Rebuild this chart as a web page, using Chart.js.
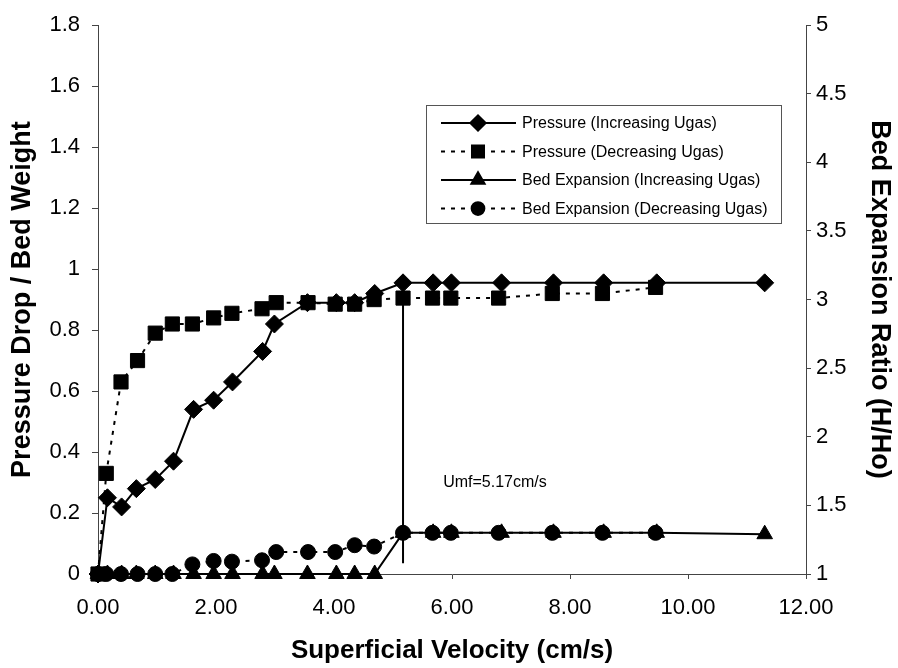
<!DOCTYPE html>
<html lang="en">
<head>
<meta charset="utf-8">
<title>Pressure drop and bed expansion</title>
<script src="https://cdn.jsdelivr.net/npm/chart.js@4.4.0/dist/chart.umd.min.js"></script>
<style>
  html, body { margin: 0; padding: 0; background: #fff; }
  #wrap { width: 898px; height: 668px; }
</style>
</head>
<body>
<div id="wrap"><canvas id="myChart" width="898" height="668"></canvas></div>
<script>
// superficial velocity (cm/s), increasing gas flow
var velInc = [0, 0.16, 0.40, 0.65, 0.97, 1.28, 1.62, 1.96, 2.28, 2.79, 2.99, 3.55, 4.04, 4.35, 4.69, 5.17, 5.68, 5.99, 6.84, 7.72, 8.57, 9.47, 11.30];
var pressureInc = [0, 0.25, 0.22, 0.28, 0.31, 0.37, 0.54, 0.57, 0.63, 0.73, 0.82, 0.89, 0.89, 0.89, 0.92, 0.955, 0.955, 0.955, 0.955, 0.955, 0.955, 0.955, 0.955];
var bedInc = [1, 1, 1, 1, 1, 1, 1, 1, 1, 1, 1, 1, 1, 1, 1, 1.30, 1.30, 1.30, 1.30, 1.30, 1.30, 1.30, 1.29];

// decreasing gas flow
var velDec = [0, 0.14, 0.39, 0.67, 0.97, 1.26, 1.60, 1.96, 2.27, 2.78, 3.02, 3.56, 4.02, 4.35, 4.68, 5.17, 5.67, 5.98, 6.79, 7.70, 8.55, 9.45];
var pressureDec = [0, 0.33, 0.63, 0.70, 0.79, 0.82, 0.82, 0.84, 0.855, 0.87, 0.89, 0.89, 0.885, 0.885, 0.90, 0.905, 0.905, 0.905, 0.905, 0.92, 0.92, 0.94];
var bedDec = [1, 1, 1, 1, 1, 1, 1.07, 1.095, 1.09, 1.10, 1.16, 1.16, 1.16, 1.21, 1.20, 1.30, 1.30, 1.30, 1.30, 1.30, 1.30, 1.30];

// minimum fluidisation marker
var umfVel = 5.17;
var umfLineY = [0.955, 0.035];
var umfLabel = 'Umf=5.17cm/s';
var umfLabelPos = [5.85, 0.30];

var seriesNames = [
  'Pressure (Increasing Ugas)',
  'Pressure (Decreasing Ugas)',
  'Bed Expansion (Increasing Ugas)',
  'Bed Expansion (Decreasing Ugas)'
];

var xTicks = [0, 2, 4, 6, 8, 10, 12];

function pts(xs, ys) {
  return xs.map(function (x, i) { return { x: x, y: ys[i] }; });
}

var FONT = "'Liberation Sans', Arial, sans-serif";
var AXIS = '#444';

// legend drawn inside the plot, like the excel original
var boxLegend = {
  id: 'boxLegend',
  afterDraw: function (chart) {
    var ctx = chart.ctx;
    var x0 = 426, y0 = 105, w = 355, h = 118;
    ctx.save();
    ctx.fillStyle = '#fff';
    ctx.fillRect(x0, y0, w, h);
    ctx.strokeStyle = '#555';
    ctx.lineWidth = 1;
    ctx.strokeRect(x0 + 0.5, y0 + 0.5, w, h);
    chart.data.datasets.slice(0, 4).forEach(function (ds, i) {
      var y = y0 + 18 + i * 28.5;
      ctx.strokeStyle = '#000';
      ctx.lineWidth = 2;
      ctx.setLineDash(ds.borderDash || []);
      ctx.beginPath();
      ctx.moveTo(441, y);
      ctx.lineTo(516, y);
      ctx.stroke();
      ctx.setLineDash([]);
      ctx.fillStyle = '#000';
      Chart.helpers.drawPoint(ctx, { pointStyle: ds.pointStyle, radius: ds.pointRadius * 0.85, rotation: 0, borderWidth: 1 }, 478, y);
      ctx.fillStyle = '#000';
      ctx.font = '16px ' + FONT;
      ctx.textBaseline = 'middle';
      ctx.fillText(ds.label, 522, y + 1);
    });
    // Umf note
    var sx = chart.scales.x, sy = chart.scales.y;
    ctx.font = '16px ' + FONT;
    ctx.textBaseline = 'middle';
    ctx.fillText(umfLabel, sx.getPixelForValue(umfLabelPos[0]), sy.getPixelForValue(umfLabelPos[1]));
    ctx.restore();
  }
};

var common = { borderColor: '#000', backgroundColor: '#000', borderWidth: 2, showLine: true, tension: 0, pointBorderWidth: 1, clip: false };

function shortNum(v) { return String(Number(v.toFixed(1))); }

var ctx = document.getElementById('myChart').getContext('2d');
var myChart = new Chart(ctx, {
  type: 'scatter',
  data: {
    datasets: [
      Object.assign({}, common, { label: seriesNames[0], data: pts(velInc, pressureInc), yAxisID: 'y', pointStyle: 'rectRot', pointRadius: 9, order: 1 }),
      Object.assign({}, common, { label: seriesNames[1], data: pts(velDec, pressureDec), yAxisID: 'y', pointStyle: 'rect', pointRadius: 10, borderDash: [4, 6], order: 2 }),
      Object.assign({}, common, { label: seriesNames[2], data: pts(velInc, bedInc), yAxisID: 'y2', pointStyle: 'triangle', pointRadius: 9, order: 3 }),
      Object.assign({}, common, { label: seriesNames[3], data: pts(velDec, bedDec), yAxisID: 'y2', pointStyle: 'circle', pointRadius: 7.5, borderDash: [4, 6], order: 4 }),
      Object.assign({}, common, { label: 'Umf', data: pts([umfVel, umfVel], umfLineY), yAxisID: 'y', pointRadius: 0, order: 5 })
    ]
  },
  options: {
    responsive: false,
    animation: false,
    layout: { padding: { top: 19, left: 0, right: 0, bottom: 0 } },
    plugins: { legend: { display: false }, tooltip: { enabled: false } },
    scales: {
      x: {
        type: 'linear', min: 0, max: 12,
        afterBuildTicks: function (s) { s.ticks = xTicks.map(function (v) { return { value: v }; }); },
        afterFit: function (s) { s.height = 94; },
        border: { display: true, color: AXIS, width: 1 },
        grid: { drawOnChartArea: false, drawTicks: true, tickLength: 5, color: AXIS },
        ticks: { color: '#000', font: { family: FONT, size: 22 }, padding: 16, callback: function (v) { return v.toFixed(2); } },
        title: { display: true, text: 'Superficial Velocity (cm/s)', color: '#000', font: { family: FONT, size: 26, weight: 'bold' }, padding: { top: 0, bottom: 2 } }
      },
      y: {
        position: 'left', min: 0, max: 1.8,
        ticks: { stepSize: 0.2, color: '#000', font: { family: FONT, size: 22 }, padding: 12, callback: shortNum },
        afterFit: function (s) { s.width = 98; },
        border: { display: true, color: AXIS, width: 1 },
        grid: { drawOnChartArea: false, drawTicks: true, tickLength: 6, color: AXIS },
        title: { display: true, text: 'Pressure Drop / Bed Weight', color: '#000', font: { family: FONT, size: 27, weight: 'bold' }, padding: { top: 6, bottom: 0 } }
      },
      y2: {
        position: 'right', min: 1, max: 5,
        ticks: { stepSize: 0.5, color: '#000', font: { family: FONT, size: 22 }, padding: 5, callback: shortNum },
        afterFit: function (s) { s.width = 92; },
        border: { display: true, color: AXIS, width: 1 },
        grid: { drawOnChartArea: false, drawTicks: true, tickLength: 5, color: AXIS },
        title: { display: true, text: 'Bed Expansion Ratio (H/Ho)', color: '#000', font: { family: FONT, size: 27, weight: 'bold' }, padding: { top: 2, bottom: 0 } }
      }
    }
  },
  plugins: [boxLegend]
});
</script>
</body>
</html>
